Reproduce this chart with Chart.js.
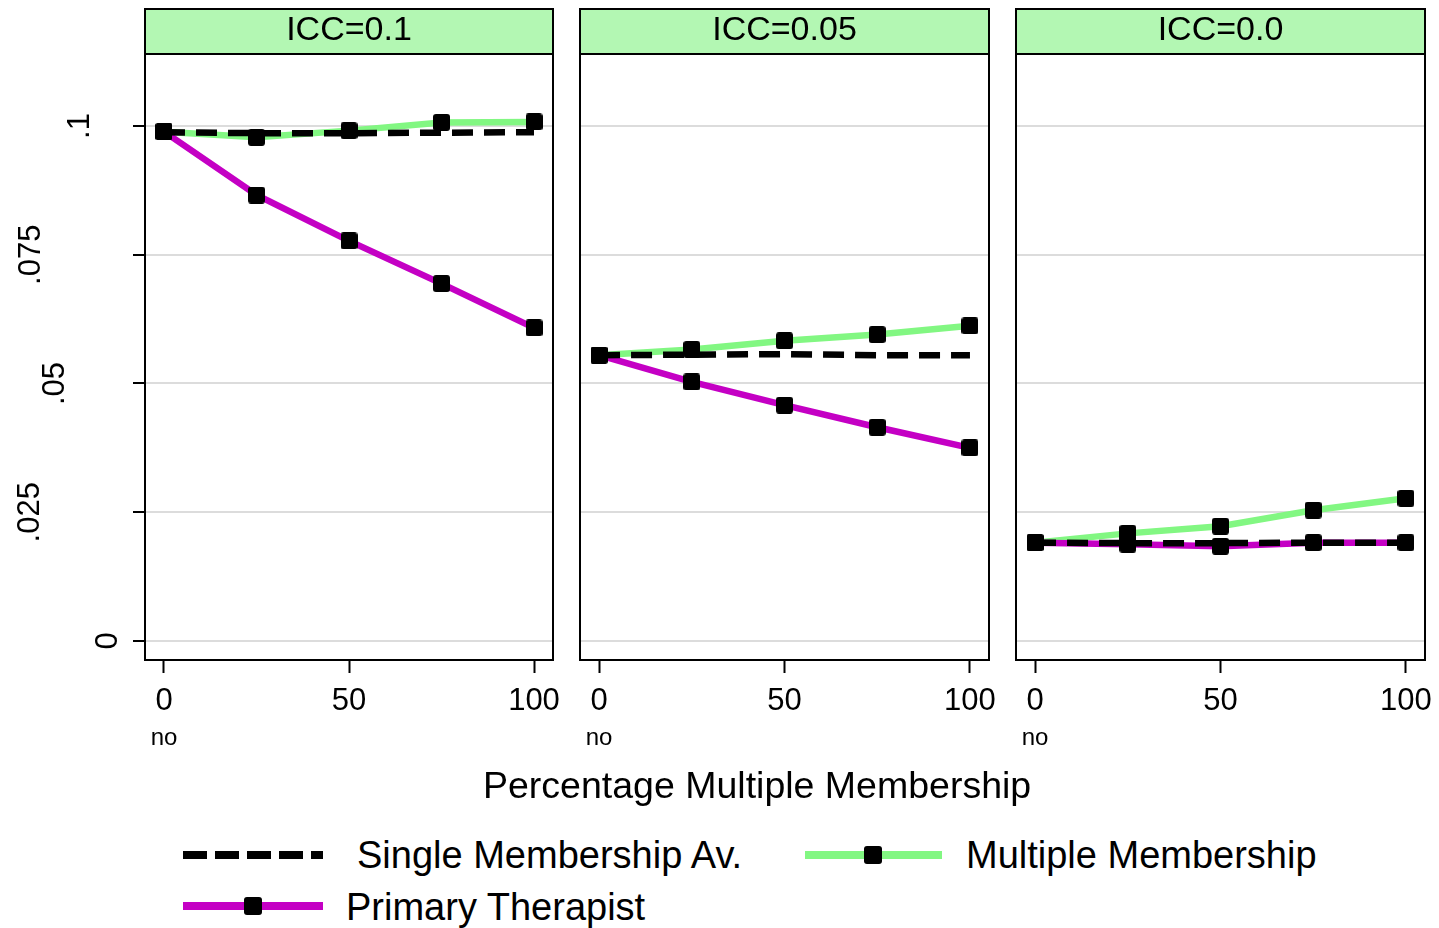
<!DOCTYPE html>
<html>
<head>
<meta charset="utf-8">
<script src="https://cdn.jsdelivr.net/npm/chart.js@4.4.1/dist/chart.umd.min.js"></script>
<style>
  html, body { margin:0; padding:0; background:#fff; }
  body { width:1439px; height:928px; position:relative; overflow:hidden; font-family:"Liberation Sans", Arial, sans-serif; color:#000; }
  canvas.panel { position:absolute; top:0; }
  .txt { position:absolute; white-space:nowrap; line-height:1; }
  svg.sample { position:absolute; overflow:visible; }
</style>
</head>
<body>
<canvas id="c1" class="panel" width="565" height="770" style="left:0px"></canvas>
<canvas id="c2" class="panel" width="430" height="770" style="left:570px"></canvas>
<canvas id="c3" class="panel" width="430" height="770" style="left:1006px"></canvas>

<div id="xtitle" class="txt" style="font-size:37.5px; left:483px; top:767px;"></div>

<svg class="sample" style="left:183px; top:845px" width="140" height="20">
  <line x1="0" y1="10" x2="140" y2="10" stroke="#000" stroke-width="8" stroke-dasharray="24 8"/>
</svg>
<div id="lg1" class="txt" style="font-size:38px; left:357px; top:836px;"></div>

<svg class="sample" style="left:805px; top:843px" width="137" height="24">
  <line x1="0" y1="12" x2="137" y2="12" stroke="#82f782" stroke-width="8"/>
  <rect x="59" y="3" width="18" height="18" rx="3" ry="3" fill="#000"/>
</svg>
<div id="lg2" class="txt" style="font-size:38px; left:966px; top:836px;"></div>

<svg class="sample" style="left:183px; top:894px" width="140" height="24">
  <line x1="0" y1="12" x2="140" y2="12" stroke="#c400c4" stroke-width="8"/>
  <rect x="61" y="3" width="18" height="18" rx="3" ry="3" fill="#000"/>
</svg>
<div id="lg3" class="txt" style="font-size:38px; left:346px; top:888px;"></div>

<script>
// ---------------- DATA ----------------
const xValues = [0, 25, 50, 75, 100];
const panelTitles = ['ICC=0.1', 'ICC=0.05', 'ICC=0.0'];

const singleAv_icc010 = [0.0988, 0.0986, 0.0986, 0.0987, 0.0988];
const multiple_icc010 = [0.0989, 0.0978, 0.0991, 0.1007, 0.1008];
const primary_icc010  = [0.0989, 0.0866, 0.0777, 0.0694, 0.0608];

const singleAv_icc005 = [0.0555, 0.0556, 0.0557, 0.0555, 0.0555];
const multiple_icc005 = [0.0555, 0.0566, 0.0583, 0.0595, 0.0612];
const primary_icc005  = [0.0555, 0.0503, 0.0458, 0.0415, 0.0375];

const singleAv_icc000 = [0.0191, 0.0190, 0.0190, 0.0191, 0.0191];
const multiple_icc000 = [0.0191, 0.0209, 0.0223, 0.0254, 0.0277];
const primary_icc000  = [0.0191, 0.0188, 0.0184, 0.0191, 0.0191];

const yTicks = [0, 0.025, 0.05, 0.075, 0.1];
const yTickLabels = ['0', '.025', '.05', '.075', '.1'];
const xTicks = [0, 50, 100];
const xTickLabels = ['0', '50', '100'];
const xSubLabel = 'no';
const xAxisTitle = 'Percentage Multiple Membership';
const seriesNames = ['Single Membership Av.', 'Multiple Membership', 'Primary Therapist'];

// ---------------- STYLE ----------------
const FONT = '"Liberation Sans", Arial, sans-serif';
const GREEN = '#82f782';
const PURPLE = '#c400c4';
const STRIP = '#b3f7b3';
const GRID = '#dcdcdc';
// stagger of the rotated y labels (distance of label centre from the left edge)
const yLabelX = { '0': 106.5, '.025': 28.5, '.05': 53.5, '.075': 29.5, '.1': 78.5 };

document.getElementById('xtitle').textContent = xAxisTitle;
document.getElementById('lg1').textContent = seriesNames[0];
document.getElementById('lg2').textContent = seriesNames[1];
document.getElementById('lg3').textContent = seriesNames[2];

// rounded square marker
function makeMarker(size, r) {
  const c = document.createElement('canvas');
  c.width = size; c.height = size;
  const g = c.getContext('2d');
  g.fillStyle = '#000';
  g.beginPath();
  g.roundRect(0, 0, size, size, r);
  g.fill();
  return c;
}
const marker = makeMarker(17, 3);

const toXY = arr => xValues.map((x, i) => ({ x: x, y: arr[i] }));

const panelPlugin = {
  id: 'panelDeco',
  beforeDraw(chart, args, opts) {
    const { ctx, chartArea: a } = chart;
    ctx.save();
    ctx.fillStyle = STRIP;
    ctx.fillRect(a.left, 9, a.right - a.left, a.top - 9);
    ctx.lineWidth = 2;
    ctx.strokeStyle = '#000';
    ctx.strokeRect(a.left, 9, a.right - a.left, a.top - 9);
    ctx.fillStyle = '#000';
    ctx.font = '34px ' + FONT;
    ctx.textAlign = 'center';
    ctx.textBaseline = 'middle';
    ctx.fillText(opts.title, (a.left + a.right) / 2, 31);
    ctx.restore();
  },
  beforeDatasetsDraw(chart) {
    const { ctx, chartArea: a } = chart;
    ctx.save();
    ctx.lineWidth = 2;
    ctx.strokeStyle = '#000';
    ctx.strokeRect(a.left, a.top, a.right - a.left, a.bottom - a.top);
    ctx.restore();
  },
  afterDraw(chart, args, opts) {
    const { ctx } = chart;
    const xs = chart.scales.x, ys = chart.scales.y;
    ctx.save();
    ctx.fillStyle = '#000';
    ctx.font = '24px ' + FONT;
    ctx.textAlign = 'center';
    ctx.textBaseline = 'middle';
    ctx.fillText(xSubLabel, xs.getPixelForValue(0), 738);
    if (opts.yLabels) {
      ctx.font = '31px ' + FONT;
      yTicks.forEach((v, i) => {
        const lab = yTickLabels[i];
        ctx.save();
        ctx.translate(yLabelX[lab], ys.getPixelForValue(v));
        ctx.rotate(-Math.PI / 2);
        ctx.textAlign = 'center';
        ctx.textBaseline = 'middle';
        ctx.fillText(lab, 0, 2);
        ctx.restore();
      });
    }
    ctx.restore();
  }
};

function makePanel(id, title, single, multiple, primary, yAxisWidth, padRight, showYTicks) {
  new Chart(document.getElementById(id), {
    type: 'line',
    data: {
      datasets: [
        { label: 'mm-markers', data: toXY(multiple), showLine: false, pointStyle: marker, pointRadius: 8.5, order: 0 },
        { label: 'pt-markers', data: toXY(primary), showLine: false, pointStyle: marker, pointRadius: 8.5, order: 0 },
        { label: seriesNames[0], data: toXY(single), borderColor: '#000', borderWidth: 6.5, borderDash: [21, 11], pointRadius: 0, order: 1, borderCapStyle: 'butt' },
        { label: seriesNames[2], data: toXY(primary), borderColor: PURPLE, borderWidth: 6.5, pointRadius: 0, order: 2 },
        { label: seriesNames[1], data: toXY(multiple), borderColor: GREEN, borderWidth: 6.5, pointRadius: 0, order: 3 }
      ]
    },
    options: {
      responsive: false,
      animation: false,
      events: [],
      layout: { padding: { top: 54, right: padRight, left: 0, bottom: 0 } },
      plugins: {
        legend: { display: false },
        tooltip: { enabled: false },
        panelDeco: { title: title, yLabels: showYTicks }
      },
      scales: {
        x: {
          type: 'linear',
          min: -5.135, max: 105.135,
          afterBuildTicks: s => { s.ticks = xTicks.map(v => ({ value: v })); },
          afterFit: s => { s.height = 110; s.paddingLeft = 0; s.paddingRight = 0; },
          ticks: {
            autoSkip: false, maxRotation: 0, color: '#000', padding: 10,
            font: { family: FONT, size: 31 },
            callback: v => xTickLabels[xTicks.indexOf(v)]
          },
          grid: { drawOnChartArea: false, drawTicks: true, tickLength: 13, tickWidth: 2, tickColor: '#000' },
          border: { display: false }
        },
        y: {
          type: 'linear',
          min: -0.00369, max: 0.11398,
          afterBuildTicks: s => { s.ticks = yTicks.map(v => ({ value: v })); },
          afterFit: s => { s.width = yAxisWidth; s.paddingTop = 0; s.paddingBottom = 0; },
          ticks: { display: false },
          grid: { color: GRID, lineWidth: 2, drawTicks: showYTicks, tickLength: 12, tickWidth: 2, tickColor: '#000' },
          border: { display: false }
        }
      }
    },
    plugins: [panelPlugin]
  });
}

makePanel('c1', panelTitles[0], singleAv_icc010, multiple_icc010, primary_icc010, 145, 12, true);
makePanel('c2', panelTitles[1], singleAv_icc005, multiple_icc005, primary_icc005, 10, 11, false);
makePanel('c3', panelTitles[2], singleAv_icc000, multiple_icc000, primary_icc000, 10, 11, false);
</script>
</body>
</html>
